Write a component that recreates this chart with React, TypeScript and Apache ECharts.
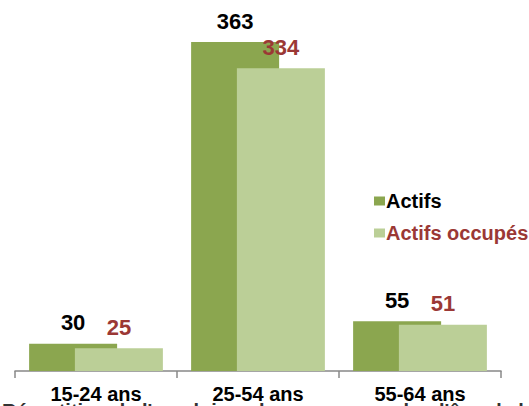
import React, { useEffect, useRef } from "react";
import * as echarts from "echarts";

const categories = ["15-24 ans", "25-54 ans", "55-64 ans"];
const actifs = [30, 363, 55];
const actifsOccupes = [25, 334, 51];
const seriesNames = ["Actifs", "Actifs occupés"];
const footerText = "Répartition de l'emploi sur la commune selon l'âge de la population";

const DARK = "#8BA64F";
const LIGHT = "#BBCF97";
const RED = "#9B3835";
const FONT = "'Liberation Sans', Arial, sans-serif";

export default function App() {
  const ref = useRef<HTMLDivElement>(null);
  useEffect(() => {
    if (!ref.current) return;
    const chart = echarts.init(ref.current, undefined, { renderer: "svg" });
    chart.setOption({
      animation: false,
      backgroundColor: "#ffffff",
      grid: { left: 15, right: 28, top: 8.5, bottom: 35, containLabel: false },
      legend: {
        orient: "vertical",
        left: 369,
        top: 186,
        itemWidth: 11,
        itemHeight: 9,
        itemGap: 12,
        icon: "rect",
        textStyle: { fontFamily: FONT, fontSize: 20, fontWeight: "bold", lineHeight: 20, padding: [0, 0, 0, -4] },
        data: [
          { name: seriesNames[0], textStyle: { color: "#000000" } },
          { name: seriesNames[1], textStyle: { color: RED } },
        ],
      },
      xAxis: {
        type: "category",
        data: categories,
        axisLine: { show: true, lineStyle: { color: "#888888", width: 1.5 } },
        axisTick: { show: true, length: 7, lineStyle: { color: "#888888", width: 1.5 } },
        axisLabel: {
          margin: 13,
          fontFamily: FONT,
          fontSize: 20,
          fontWeight: "bold",
          color: "#000000",
        },
      },
      yAxis: {
        type: "value",
        min: 0,
        max: 400,
        show: false,
        splitLine: { show: false },
      },
      series: [
        {
          name: seriesNames[0],
          type: "bar",
          data: actifs,
          barWidth: 88,
          barGap: "-48%",
          itemStyle: { color: DARK },
          label: {
            show: true,
            position: "top",
            distance: 10,
            fontFamily: FONT,
            fontSize: 22,
            fontWeight: "bold",
            color: "#000000",
          },
        },
        {
          name: seriesNames[1],
          type: "bar",
          data: actifsOccupes,
          barWidth: 88,
          itemStyle: { color: LIGHT },
          label: {
            show: true,
            position: "top",
            distance: 10,
            fontFamily: FONT,
            fontSize: 22,
            fontWeight: "bold",
            color: RED,
          },
        },
      ],
      graphic: [
        {
          type: "text",
          left: 2,
          top: 401,
          style: {
            text: footerText,
            fontFamily: FONT,
            fontSize: 20,
            fontWeight: "bold",
            fill: "#333333",
          },
        },
      ],
    });
    return () => chart.dispose();
  }, []);
  return (
    <div
      ref={ref}
      style={{ position: "fixed", left: 0, top: 0, width: 529, height: 406 }}
    />
  );
}
